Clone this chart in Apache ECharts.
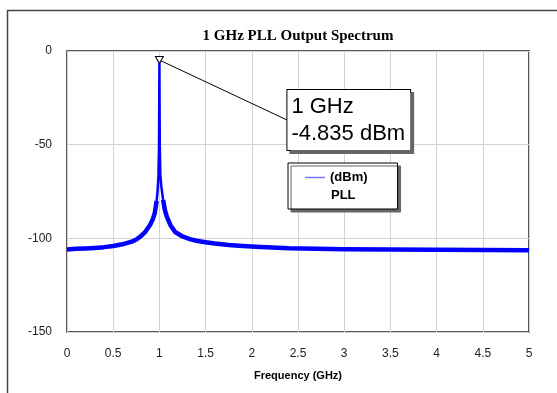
<!DOCTYPE html>
<html>
<head>
<meta charset="utf-8">
<script src="https://cdn.jsdelivr.net/npm/echarts@6/dist/echarts.min.js"></script>
<style>
   html, body {
      margin: 0;
      padding: 0;
      background: #fff;
   }

   #spectrum {
      width: 557px;
      height: 393px;
   }
</style>
</head>
<body>
<div id="spectrum"></div>
<script>
// noise floor left of the carrier (GHz / dBm)
const freqLeft = [0, 0.1, 0.2, 0.3, 0.4, 0.5, 0.6, 0.7, 0.75, 0.8, 0.85, 0.9, 0.93, 0.95, 0.97]
const levelLeft = [-105.9, -105.6, -105.4, -105.1, -104.7, -104.1, -103.2, -101.8, -100.6, -98.8, -96.4, -92.8, -89.6, -86.5, -80]

// carrier spike and its close-in skirt
const freqPeak = [0.97, 0.98, 0.99, 0.996, 0.998, 1.0, 1.002, 1.004, 1.01, 1.02, 1.04]
const levelPeak = [-80, -75, -66, -50, -28, -4.835, -28, -50, -66, -72, -79.5]

// noise floor right of the carrier
const freqRight = [1.04, 1.06, 1.08, 1.12, 1.17, 1.25, 1.33, 1.4, 1.5, 1.6, 1.75, 1.9, 2.1, 2.4, 2.7, 3.0, 3.5, 4.0, 4.5, 5.0]
const levelRight = [-79.5, -85, -88.4, -93, -96.6, -99, -100.4, -101.3, -102.1, -102.8, -103.6, -104.1, -104.6, -105.3, -105.6, -105.8, -106, -106.1, -106.2, -106.3]

// marker readout
const markerFreq = 1
const markerLevel = -4.835
const calloutAt = [2.38, -36.8]

const xTicks = { min: 0, max: 5, interval: 0.5 }
const yTicks = { min: -150, max: 0, interval: 50 }

function pairs(xs, ys) {
   let out = []
   for (let i = 0; i < xs.length; i++) {
      out.push([xs[i], ys[i]])
   }
   return out
}

// the floor is drawn as one series with a gap where the thin spike sits
let floorData = pairs(freqLeft, levelLeft).concat([[1.0, null]], pairs(freqRight, levelRight))

const sans = 'Liberation Sans, Arial, sans-serif'

let chart = echarts.init(document.getElementById('spectrum'))
let option = {
   animation: false,
   backgroundColor: '#fff',
   title: {
      text: '1 GHz PLL Output Spectrum',
      left: 298,
      top: 29,
      textAlign: 'center',
      padding: 0,
      textStyle: {
         fontFamily: 'Liberation Serif, Times New Roman, serif',
         fontWeight: 'bold',
         fontSize: 15,
         color: '#000'
      }
   },
   legend: {
      left: 288,
      top: 163,
      orient: 'vertical',
      data: ['PLL'],
      formatter: () => '(dBm)',
      icon: 'rect',
      itemWidth: 20,
      itemHeight: 1.5,
      itemStyle: { color: '#7777ff' },
      padding: [8, 30, 25, 17],
      backgroundColor: '#fff',
      borderColor: '#000',
      borderWidth: 1,
      shadowColor: '#666',
      shadowOffsetX: 3,
      shadowOffsetY: 3,
      shadowBlur: 0,
      selectedMode: false,
      textStyle: {
         fontFamily: sans,
         fontWeight: 'bold',
         fontSize: 13,
         color: '#000'
      }
   },
   graphic: [
      {
         type: 'rect',
         z: -10,
         silent: true,
         shape: { x: 7.5, y: 10.5, width: 600, height: 500 },
         style: { fill: 'none', stroke: '#444', lineWidth: 1.5 }
      },
      {
         type: 'text',
         left: 331,
         top: 189,
         z: 100,
         style: {
            text: 'PLL',
            font: 'bold 13px ' + sans,
            fill: '#000'
         }
      }
   ],
   grid: {
      left: 67,
      right: 28,
      top: 51,
      bottom: 61,
      show: true,
      borderColor: '#222',
      borderWidth: 1.5,
      backgroundColor: 'transparent'
   },
   xAxis: {
      type: 'value',
      min: xTicks.min,
      max: xTicks.max,
      interval: xTicks.interval,
      name: 'Frequency (GHz)',
      nameLocation: 'middle',
      nameGap: 38,
      nameTextStyle: {
         fontFamily: sans,
         fontWeight: 'bold',
         fontSize: 11,
         color: '#000'
      },
      axisLine: { show: false },
      axisTick: { show: false },
      axisLabel: {
         margin: 16,
         fontFamily: sans,
         fontSize: 12,
         color: '#222'
      },
      splitLine: {
         show: true,
         lineStyle: { color: '#d3d3d3', width: 1 }
      }
   },
   yAxis: {
      type: 'value',
      min: yTicks.min,
      max: yTicks.max,
      interval: yTicks.interval,
      axisLine: { show: false },
      axisTick: { show: false },
      axisLabel: {
         margin: 15,
         fontFamily: sans,
         fontSize: 12,
         color: '#222'
      },
      splitLine: {
         show: true,
         lineStyle: { color: '#d3d3d3', width: 1 }
      }
   },
   series: [
      {
         name: 'PLL',
         type: 'line',
         data: floorData,
         showSymbol: false,
         connectNulls: false,
         color: '#0000ff',
         lineStyle: { color: '#0000ff', width: 4.5, join: 'round' },
         z: 2
      },
      {
         name: 'PLL',
         type: 'line',
         data: pairs(freqPeak, levelPeak),
         showSymbol: false,
         color: '#0000ff',
         lineStyle: { color: '#0000ff', width: 2.5, join: 'bevel' },
         z: 3,
         markLine: {
            silent: true,
            symbol: 'none',
            label: { show: false },
            lineStyle: { color: '#000', width: 1, type: 'solid' },
            data: [
               [{ coord: [markerFreq, markerLevel] }, { coord: calloutAt }]
            ]
         },
         markPoint: {
            silent: true,
            data: [
               {
                  coord: [markerFreq, markerLevel],
                  symbol: 'triangle',
                  symbolRotate: 180,
                  symbolSize: [8, 7],
                  itemStyle: { color: '#fff', borderColor: '#000', borderWidth: 1 },
                  label: { show: false }
               },
               {
                  coord: calloutAt,
                  symbol: 'rect',
                  symbolSize: 1,
                  itemStyle: { color: 'transparent' },
                  label: {
                     show: true,
                     position: 'right',
                     distance: 0,
                     formatter: markerFreq + ' GHz\n' + markerLevel + ' dBm',
                     fontFamily: sans,
                     fontSize: 22,
                     lineHeight: 27,
                     color: '#000',
                     align: 'left',
                     backgroundColor: '#fff',
                     borderColor: '#000',
                     borderWidth: 1,
                     padding: [3, 5, 3, 4],
                     shadowColor: '#666',
                     shadowOffsetX: 3,
                     shadowOffsetY: 3,
                     shadowBlur: 0
                  }
               }
            ]
         }
      }
   ]
}

chart.setOption(option)
</script>
</body>
</html>
